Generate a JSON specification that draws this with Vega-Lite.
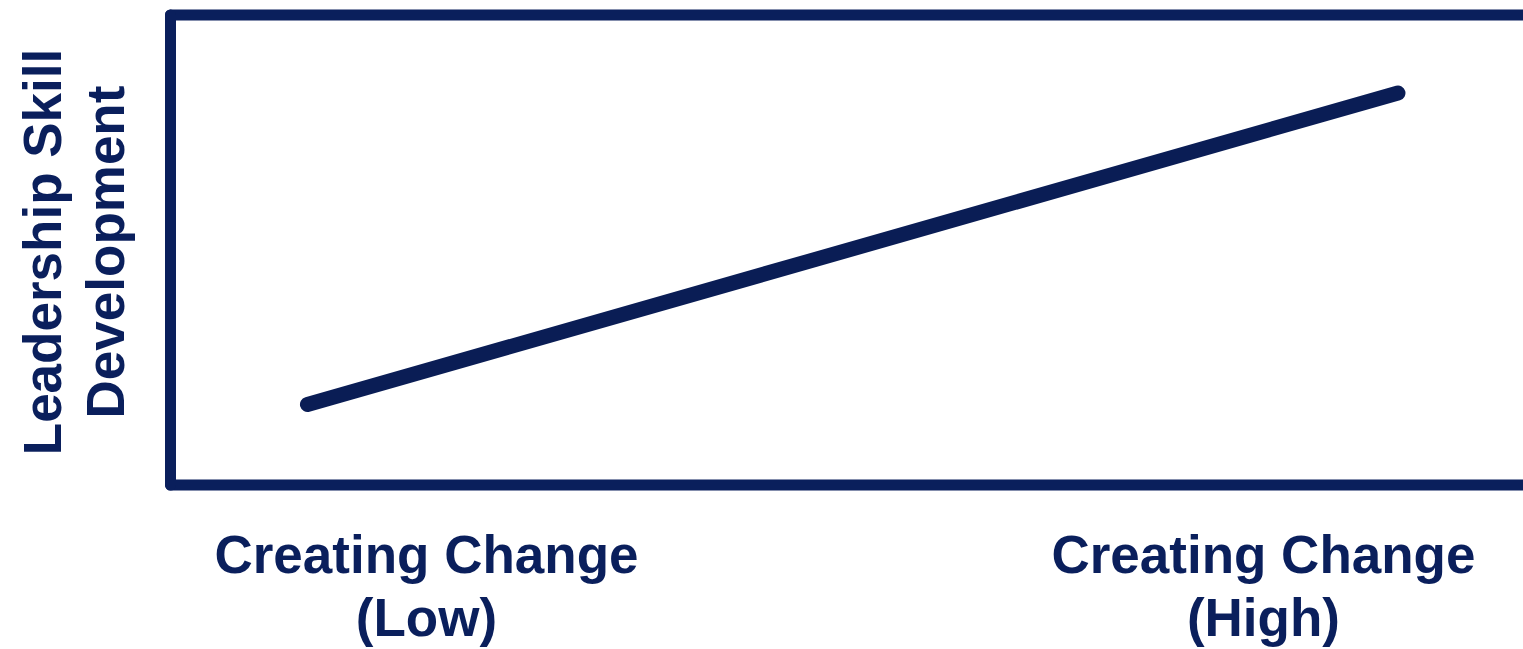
{
  "$schema": "https://vega.github.io/schema/vega-lite/v6.json",
  "autosize": {"type": "none"},
  "padding": {"left": 170, "top": 14.5, "right": 0, "bottom": 164.5},
  "width": 1353,
  "height": 470,
  "background": "white",
  "config": {
    "view": {"stroke": null},
    "font": "Liberation Sans",
    "axis": {"domainColor": "#0a1f5c", "domainWidth": 11, "domainCap": "round", "grid": false}
  },
  "data": {"values": [
    {"x": 10.16, "y": 17.02},
    {"x": 90.76, "y": 83.3}
  ]},
  "resolve": {"axis": {"x": "independent"}},
  "layer": [
    {
      "mark": {"type": "line", "color": "#0a1d55", "strokeWidth": 15, "strokeCap": "round"},
      "encoding": {
        "x": {"field": "x", "type": "quantitative", "scale": {"domain": [0, 100], "nice": false, "zero": false},
          "axis": {"orient": "bottom", "title": null, "ticks": false, "values": [18.92, 80.78],
            "labelExpr": "datum.value < 50 ? ['Creating Change', '(Low)'] : ['Creating Change', '(High)']",
            "labelFont": "Liberation Sans", "labelFontWeight": "bold", "labelFontSize": 53, "labelColor": "#0a1f5c",
            "labelBaseline": "alphabetic", "labelPadding": 88, "labelLineHeight": 63, "labelAlign": "center",
            "labelLimit": 0, "labelOverlap": false, "labelFlush": false, "labelBound": false}},
        "y": {"field": "y", "type": "quantitative", "scale": {"domain": [0, 100], "nice": false, "zero": false},
          "axis": {"orient": "left", "labels": false, "ticks": false,
            "title": ["Leadership Skill", "Development"],
            "titleFont": "Liberation Sans", "titleFontWeight": "bold", "titleFontSize": 53, "titleColor": "#0a1f5c",
            "titleLineHeight": 63, "titleAngle": 270, "titleAlign": "center", "titleBaseline": "alphabetic",
            "titleX": -110, "titleY": 237, "titleLimit": 0}}
      }
    },
    {
      "mark": {"type": "point", "opacity": 0},
      "encoding": {
        "x": {"field": "x", "type": "quantitative",
          "axis": {"orient": "top", "labels": false, "ticks": false, "title": null}},
        "y": {"field": "y", "type": "quantitative"}
      }
    }
  ]
}
